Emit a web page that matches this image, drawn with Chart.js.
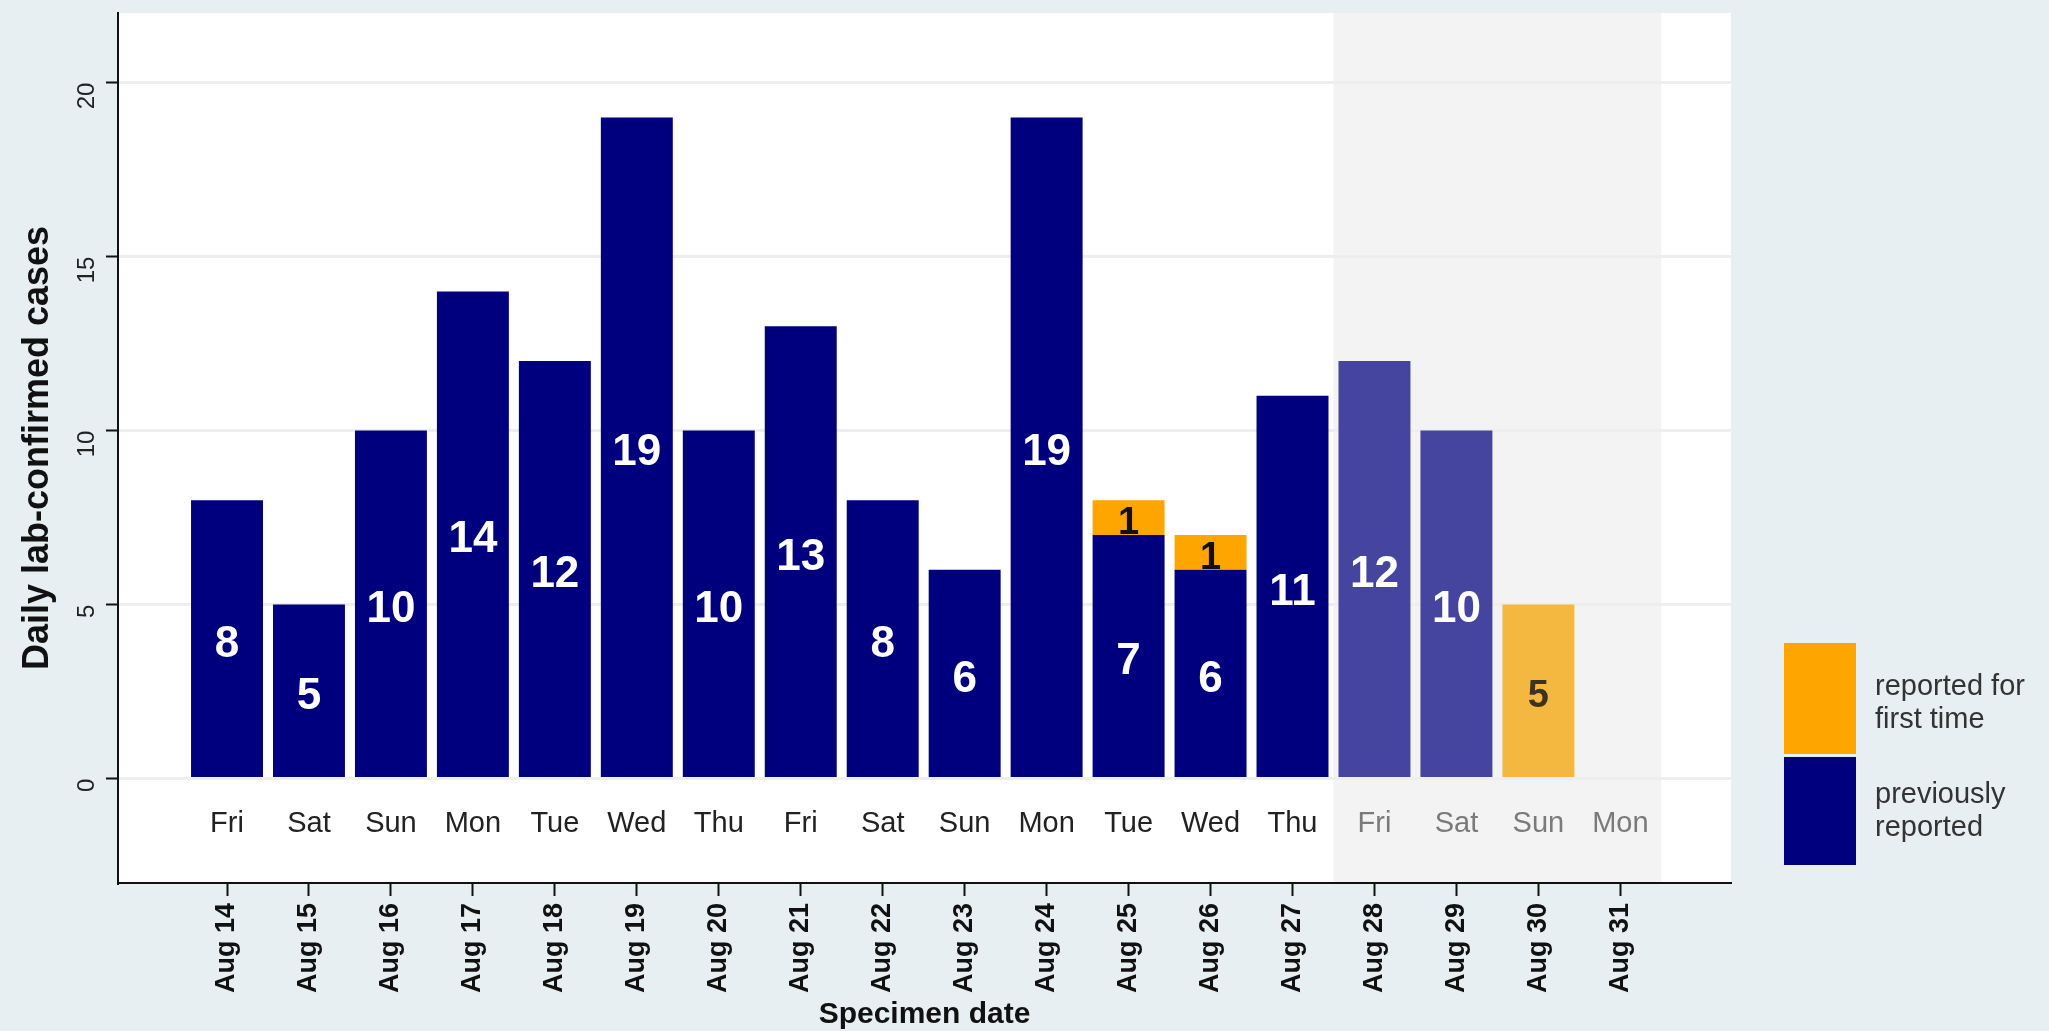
<!DOCTYPE html>
<html>
<head>
<meta charset="utf-8">
<title>Daily lab-confirmed cases</title>
<script src="https://cdn.jsdelivr.net/npm/chart.js@4.4.1/dist/chart.umd.min.js"></script>
<style>
  html, body { margin: 0; padding: 0; background: #e8eff2; }
  #wrap { width: 2049px; height: 1031px; position: relative; }
</style>
</head>
<body>
<div id="wrap"><canvas id="myChart"></canvas></div>
<script>
const dates = [
    'Aug 14', 'Aug 15', 'Aug 16', 'Aug 17', 'Aug 18', 'Aug 19',
    'Aug 20', 'Aug 21', 'Aug 22', 'Aug 23', 'Aug 24', 'Aug 25',
    'Aug 26', 'Aug 27', 'Aug 28', 'Aug 29', 'Aug 30', 'Aug 31',
];
const weekdays = [
    'Fri', 'Sat', 'Sun', 'Mon', 'Tue', 'Wed',
    'Thu', 'Fri', 'Sat', 'Sun', 'Mon', 'Tue',
    'Wed', 'Thu', 'Fri', 'Sat', 'Sun', 'Mon',
];
const previouslyReported = [8, 5, 10, 14, 12, 19, 10, 13, 8, 6, 19, 7, 6, 11, 12, 10, 0, 0];
const firstTime = [0, 0, 0, 0, 0, 0, 0, 0, 0, 0, 0, 1, 1, 0, 0, 0, 5, 0];
const yTicks = [0, 5, 10, 15, 20];

// styling
const FONT = "'Liberation Sans', Arial, Helvetica, sans-serif";
const NAVY = '#00007f';
const NAVY_FADED = '#45459f';
const ORANGE = '#ffa500';
const ORANGE_FADED = '#f4b840';
const shadeFrom = 13.5;   // last few days are incomplete
const shadeTo = 17.5;
const weekdayRow = -1.3;  // y value where the weekday names sit

Chart.defaults.font.family = FONT;

const backdrop = {
    id: 'backdrop',
    beforeDraw(chart) {
        const {ctx, chartArea: a, scales: {x}} = chart;
        ctx.save();
        ctx.fillStyle = '#ffffff';
        ctx.fillRect(a.left, a.top, a.width, a.height);
        const x0 = x.getPixelForValue(shadeFrom);
        const x1 = x.getPixelForValue(shadeTo);
        ctx.fillStyle = '#f3f3f3';
        ctx.fillRect(x0, a.top, x1 - x0, a.height);
        ctx.restore();
    }
};

const barText = {
    id: 'barText',
    afterDatasetsDraw(chart) {
        const {ctx, scales: {x, y}} = chart;
        ctx.save();
        ctx.textAlign = 'center';
        ctx.textBaseline = 'middle';
        chart.data.datasets.forEach((ds, di) => {
            chart.getDatasetMeta(di).data.forEach((bar, i) => {
                const v = ds.data[i].y;
                if (!v) return;
                if (di === 0) {
                    ctx.font = 'bold 44px ' + FONT;
                    ctx.fillStyle = '#ffffff';
                } else {
                    ctx.font = 'bold 38px ' + FONT;
                    ctx.fillStyle = i > shadeFrom ? '#3b3220' : '#111111';
                }
                ctx.fillText(String(v), bar.x, (bar.y + bar.base) / 2 + 6);
            });
        });
        ctx.font = '29px ' + FONT;
        weekdays.forEach((d, i) => {
            ctx.fillStyle = i > shadeFrom ? '#7a7a7a' : '#222222';
            ctx.fillText(d, x.getPixelForValue(i), y.getPixelForValue(weekdayRow));
        });
        ctx.restore();
    }
};

const sideLegend = {
    id: 'sideLegend',
    afterDraw(chart) {
        const {ctx, chartArea: a} = chart;
        const bx = a.right + 53;
        const items = [
            {color: ORANGE, top: 643, bottom: 754, lines: ['reported for', 'first time'], shift: 4},
            {color: NAVY, top: 757, bottom: 865, lines: ['previously', 'reported'], shift: 0},
        ];
        ctx.save();
        ctx.font = '29px ' + FONT;
        ctx.textAlign = 'left';
        ctx.textBaseline = 'middle';
        items.forEach(it => {
            ctx.fillStyle = it.color;
            ctx.fillRect(bx, it.top, 72, it.bottom - it.top);
            const mid = (it.top + it.bottom) / 2 + it.shift;
            ctx.fillStyle = '#333333';
            ctx.fillText(it.lines[0], bx + 91, mid - 16);
            ctx.fillText(it.lines[1], bx + 91, mid + 17);
        });
        ctx.restore();
    }
};

const data = {
    datasets: [
    {
        label: 'previously reported',
        data: previouslyReported.map((v, i) => ({x: i, y: v})),
        backgroundColor: c => c.dataIndex > shadeFrom ? NAVY_FADED : NAVY,
    },
    {
        label: 'reported for first time',
        data: firstTime.map((v, i) => ({x: i, y: v})),
        backgroundColor: c => c.dataIndex > shadeFrom ? ORANGE_FADED : ORANGE,
    }
]
};

const config = {
    type: 'bar',
    data: data,
    plugins: [backdrop, barText, sideLegend],
    options: {
        responsive: true,
        maintainAspectRatio: false,
        animation: false,
        layout: { padding: { top: 13, right: 318, left: 0, bottom: 0 } },
        categoryPercentage: 1,
        barPercentage: 0.878,
        borderWidth: 0,
        plugins: {
            legend: { display: false },
            tooltip: { enabled: false },
        },
        scales: {
            x: {
                type: 'linear',
                offset: false,
                stacked: true,
                min: -1.33,
                max: 18.35,
                afterBuildTicks: s => { s.ticks = dates.map((d, i) => ({value: i})); },
                afterFit: s => { s.height = 148; s.paddingLeft = 0; s.paddingRight = 0; },
                ticks: {
                    autoSkip: false,
                    minRotation: 90,
                    maxRotation: 90,
                    padding: 7,
                    color: '#111111',
                    font: { size: 27, weight: 'bold' },
                    callback: v => dates[v],
                },
                grid: { offset: false, drawOnChartArea: false, tickLength: 13, tickColor: '#111111', tickWidth: 2 },
                border: { display: true, color: '#111111', width: 2 },
                title: {
                    display: true,
                    text: 'Specimen date',
                    color: '#111111',
                    font: { size: 30, weight: 'bold', lineHeight: 1 },
                    padding: { top: 0, bottom: 1 },
                },
            },
            y: {
                stacked: true,
                min: -3,
                max: 22,
                afterBuildTicks: s => { s.ticks = yTicks.map(v => ({value: v})); },
                afterFit: s => { s.width = 118; s.paddingTop = 0; s.paddingBottom = 0; },
                ticks: {
                    minRotation: 90,
                    maxRotation: 90,
                    padding: 19,
                    color: '#222222',
                    font: { size: 24 },
                },
                grid: { color: '#eeeeee', lineWidth: 3, tickLength: 12, tickColor: '#111111', tickWidth: 2 },
                border: { color: '#111111', width: 2 },
                title: {
                    display: true,
                    text: 'Daily lab-confirmed cases',
                    color: '#111111',
                    font: { size: 36, weight: 'bold' },
                    padding: { top: 16, bottom: 0 },
                },
            },
        },
    }
};

const myChart = new Chart(
    document.getElementById('myChart'),
    config
);
</script>
</body>
</html>
